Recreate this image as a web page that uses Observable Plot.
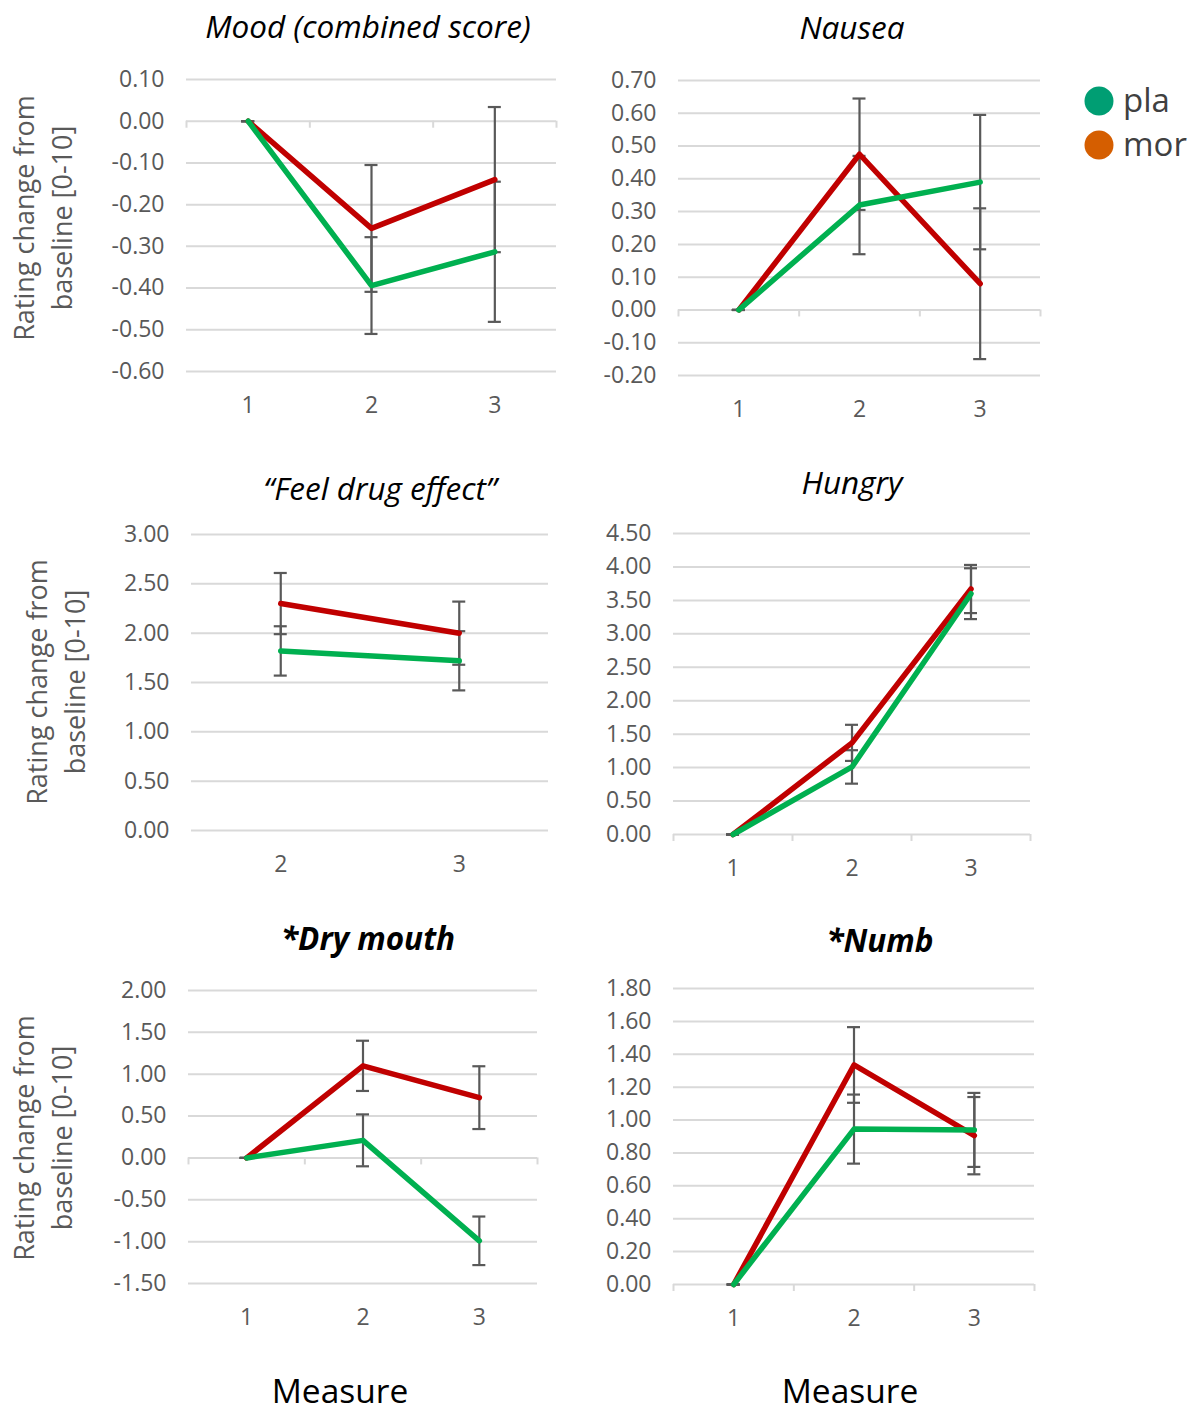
<!DOCTYPE html>
<html><head><meta charset="utf-8">
<script src="https://cdn.jsdelivr.net/npm/d3@7"></script>
<script src="https://cdn.jsdelivr.net/npm/@observablehq/plot@0.6"></script>
<style>
html,body{margin:0;padding:0;background:#fff;}
#wrap{position:relative;width:1200px;height:1414px;overflow:hidden;font-family:"Open Sans",sans-serif;}
.abs{position:absolute;white-space:nowrap;}
.title{font-style:italic;font-size:31.5px;color:#000;transform:translate(-50%,-50%);line-height:1;}
.title.b{font-weight:bold;}
.ylab{font-size:27px;color:#595959;transform:translate(-50%,-50%) rotate(-90deg);text-align:center;line-height:38px;}
.meas{font-size:33.5px;color:#000;transform:translate(-50%,-50%);line-height:30px;}
.leg{font-size:33px;color:#404040;line-height:1;transform:translateY(-50%);}
.dot{width:29px;height:29px;border-radius:50%;transform:translate(-50%,-50%);}
svg{position:absolute;}
</style></head>
<body><div id="wrap"></div>
<script>
// ---------- data ----------
const groups = ["pla", "mor"];
const measures = [1, 2, 3];
const feelMeasures = [2, 3];

const moodPla = [0, -0.394, -0.313];
const moodPlaErr = [0, 0.116, 0.168];
const moodMor = [0, -0.257, -0.14];
const moodMorErr = [0, 0.152, 0.174];
const moodTicks = [0.1, 0, -0.1, -0.2, -0.3, -0.4, -0.5, -0.6];

const nauseaPla = [0, 0.32, 0.39];
const nauseaPlaErr = [0, 0.15, 0.205];
const nauseaMor = [0, 0.475, 0.08];
const nauseaMorErr = [0, 0.17, 0.23];
const nauseaTicks = [0.7, 0.6, 0.5, 0.4, 0.3, 0.2, 0.1, 0, -0.1, -0.2];

const feelPla = [1.82, 1.72];
const feelPlaErr = [0.25, 0.30];
const feelMor = [2.30, 2.00];
const feelMorErr = [0.31, 0.32];
const feelTicks = [3, 2.5, 2, 1.5, 1, 0.5, 0];

const hungryPla = [0, 1.01, 3.60];
const hungryPlaErr = [0, 0.25, 0.38];
const hungryMor = [0, 1.37, 3.67];
const hungryMorErr = [0, 0.27, 0.36];
const hungryTicks = [4.5, 4, 3.5, 3, 2.5, 2, 1.5, 1, 0.5, 0];

const dryPla = [0, 0.21, -0.99];
const dryPlaErr = [0, 0.31, 0.29];
const dryMor = [0, 1.10, 0.72];
const dryMorErr = [0, 0.30, 0.375];
const dryTicks = [2, 1.5, 1, 0.5, 0, -0.5, -1, -1.5];

const numbPla = [0, 0.945, 0.94];
const numbPlaErr = [0, 0.21, 0.225];
const numbMor = [0, 1.335, 0.905];
const numbMorErr = [0, 0.23, 0.235];
const numbTicks = [1.8, 1.6, 1.4, 1.2, 1.0, 0.8, 0.6, 0.4, 0.2, 0];

const titles = ["Mood (combined score)", "Nausea", "\u201CFeel drug effect\u201D", "Hungry", "*Dry mouth", "*Numb"];
const yLabelLines = ["Rating change from", "baseline [0-10]"];
const xLabel = "Measure";

// ---------- layout ----------
const panels = [
  {title: titles[0], bold: false, cats: measures, pla: moodPla, plaErr: moodPlaErr, mor: moodMor, morErr: moodMorErr, ticks: moodTicks,
   left: 186, right: 556, top: 79, bottom: 371, tx: 368, ty: 26, baseTicks: true},
  {title: titles[1], bold: false, cats: measures, pla: nauseaPla, plaErr: nauseaPlaErr, mor: nauseaMor, morErr: nauseaMorErr, ticks: nauseaTicks,
   left: 678, right: 1040, top: 80, bottom: 375, tx: 852, ty: 27, baseTicks: true},
  {title: titles[2], bold: false, cats: feelMeasures, pla: feelPla, plaErr: feelPlaErr, mor: feelMor, morErr: feelMorErr, ticks: feelTicks,
   left: 191, right: 548, top: 534, bottom: 830, tx: 380, ty: 488, baseTicks: false},
  {title: titles[3], bold: false, cats: measures, pla: hungryPla, plaErr: hungryPlaErr, mor: hungryMor, morErr: hungryMorErr, ticks: hungryTicks,
   left: 673, right: 1030, top: 533, bottom: 834, tx: 852, ty: 482, baseTicks: true},
  {title: titles[4], bold: true, cats: measures, pla: dryPla, plaErr: dryPlaErr, mor: dryMor, morErr: dryMorErr, ticks: dryTicks,
   left: 188, right: 537, top: 990, bottom: 1283, tx: 368, ty: 938, baseTicks: true},
  {title: titles[5], bold: true, cats: measures, pla: numbPla, plaErr: numbPlaErr, mor: numbMor, morErr: numbMorErr, ticks: numbTicks,
   left: 673, right: 1034, top: 988, bottom: 1284, tx: 880, ty: 940, baseTicks: true}
];
const ylabs = [{x: 43, y: 218}, {x: 56, y: 682}, {x: 43, y: 1138}];
const measLabs = [{x: 340, y: 1390}, {x: 850, y: 1390}];

const FONT = "'Open Sans', sans-serif";
const GRID = "#d9d9d9";
const TXT = "#595959";
const lineColor = {pla: "#00B050", mor: "#C00000"};
const legendColor = {pla: "#009E73", mor: "#D55E00"};

const wrap = document.getElementById("wrap");
const ML = 100, MR = 12, MT = 14, MB = 52;

function rowsFor(p, g) {
  const v = g === "pla" ? p.pla : p.mor;
  const e = g === "pla" ? p.plaErr : p.morErr;
  return p.cats.map((m, i) => ({measure: m, group: g, value: v[i], err: e[i]}));
}

for (const p of panels) {
  const w = ML + (p.right - p.left) + MR;
  const h = MT + (p.bottom - p.top) + MB;
  const pla = rowsFor(p, "pla"), mor = rowsFor(p, "mor");
  const all = pla.concat(mor);
  const bounds = p.cats.map(c => c - 0.5).concat([p.cats[p.cats.length - 1] + 0.5]);
  const ymin = d3.min(p.ticks), ymax = d3.max(p.ticks);
  const marks = [
    Plot.ruleY(p.ticks, {stroke: GRID, strokeWidth: 2}),
  ];
  if (p.baseTicks) marks.push(Plot.ruleX(bounds, {x: d => d, y1: 0, y2: 0, insetBottom: -7, stroke: GRID, strokeWidth: 2}));
  marks.push(
    Plot.axisY({ticks: p.ticks, tickFormat: d => (Math.abs(d) < 1e-9 ? 0 : d).toFixed(2), tickSize: 0, tickPadding: 22, label: null, fontSize: 23, fill: TXT}),
    Plot.axisX({ticks: p.cats, tickFormat: d => String(d), tickSize: 0, tickPadding: 25, label: null, fontSize: 23, fill: TXT}),
    Plot.ruleX(all, {x: "measure", y1: d => d.value - d.err, y2: d => d.value + d.err, stroke: "#595959", strokeWidth: 2.2}),
    Plot.ruleY(all, {y: d => d.value + d.err, x1: "measure", x2: "measure", insetLeft: -6.5, insetRight: -6.5, stroke: "#595959", strokeWidth: 2.2}),
    Plot.ruleY(all, {y: d => d.value - d.err, x1: "measure", x2: "measure", insetLeft: -6.5, insetRight: -6.5, stroke: "#595959", strokeWidth: 2.2}),
    Plot.line(mor, {x: "measure", y: "value", stroke: lineColor.mor, strokeWidth: 5.5, strokeLinecap: "round", strokeLinejoin: "round"}),
    Plot.line(pla, {x: "measure", y: "value", stroke: lineColor.pla, strokeWidth: 5.5, strokeLinecap: "round", strokeLinejoin: "round"})
  );
  const svg = Plot.plot({
    width: w, height: h,
    marginLeft: ML, marginRight: MR, marginTop: MT, marginBottom: MB,
    x: {type: "linear", domain: [bounds[0], bounds[bounds.length - 1]]},
    y: {type: "linear", domain: [ymin, ymax]},
    style: {fontFamily: FONT, background: "transparent", overflow: "visible"},
    marks
  });
  svg.style.left = (p.left - ML) + "px";
  svg.style.top = (p.top - MT) + "px";
  svg.style.position = "absolute";
  wrap.appendChild(svg);

  const t = document.createElement("div");
  t.className = "abs title" + (p.bold ? " b" : "");
  t.style.left = p.tx + "px"; t.style.top = p.ty + "px";
  t.textContent = p.title;
  wrap.appendChild(t);
}

for (const l of ylabs) {
  const d = document.createElement("div");
  d.className = "abs ylab";
  d.style.left = l.x + "px"; d.style.top = l.y + "px";
  d.innerHTML = yLabelLines.join("<br>");
  wrap.appendChild(d);
}
for (const m of measLabs) {
  const d = document.createElement("div");
  d.className = "abs meas";
  d.style.left = m.x + "px"; d.style.top = m.y + "px";
  d.textContent = xLabel;
  wrap.appendChild(d);
}
const legY = [101, 145];
groups.forEach((g, i) => {
  const c = document.createElement("div");
  c.className = "abs dot";
  c.style.left = "1099px"; c.style.top = legY[i] + "px";
  c.style.background = legendColor[g];
  wrap.appendChild(c);
  const t = document.createElement("div");
  t.className = "abs leg";
  t.style.left = "1123px"; t.style.top = (legY[i] - 2) + "px";
  t.textContent = g;
  wrap.appendChild(t);
});
</script>
</body></html>
